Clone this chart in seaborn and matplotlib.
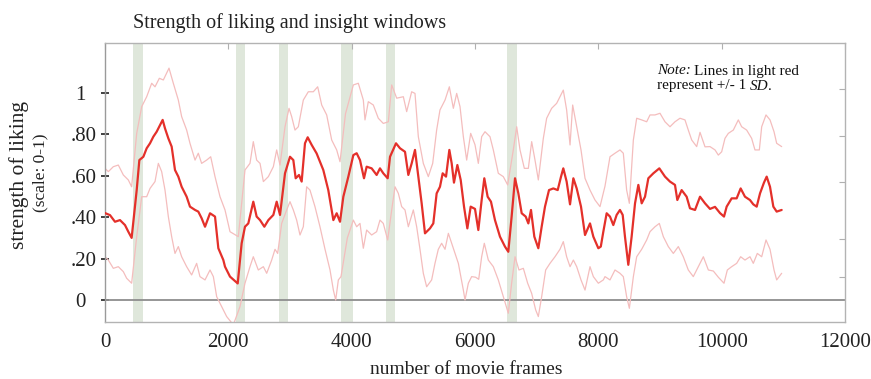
import matplotlib
matplotlib.use("Agg")
import matplotlib.pyplot as plt
import seaborn as sns
import pandas as pd

# ---------------- data ----------------
MEAN_FRAMES = [0, 81, 162, 243, 324, 378, 432, 514, 557, 622, 676, 730, 784, 838, 892, 935, 973, 1027, 1081, 1135,
               1189, 1243, 1324, 1378, 1460, 1513, 1567, 1622, 1703, 1784, 1838, 1919, 1946, 2027, 2152, 2216, 2270,
               2324, 2405, 2459, 2514, 2584, 2649, 2730, 2784, 2838, 2919, 3000, 3054, 3092, 3146, 3189, 3243, 3287,
               3352, 3432, 3540, 3621, 3703, 3757, 3811, 3865, 3946, 4027, 4081, 4135, 4200, 4243, 4324, 4405, 4459,
               4513, 4584, 4622, 4719, 4784, 4865, 4919, 4973, 5027, 5081, 5135, 5189, 5270, 5324, 5378, 5432, 5476,
               5530, 5584, 5622, 5659, 5714, 5768, 5822, 5876, 5930, 6000, 6054, 6108, 6151, 6205, 6259, 6324, 6405,
               6486, 6540, 6594, 6649, 6703, 6757, 6822, 6865, 6908, 6962, 7027, 7081, 7135, 7200, 7270, 7341, 7395,
               7432, 7486, 7541, 7595, 7649, 7719, 7784, 7865, 7919, 8000, 8040, 8081, 8135, 8189, 8243, 8297, 8351,
               8395, 8432, 8486, 8540, 8595, 8649, 8703, 8757, 8811, 8892, 8989, 9081, 9162, 9243, 9281, 9351, 9432,
               9486, 9568, 9649, 9730, 9811, 9892, 9973, 10038, 10081, 10162, 10243, 10308, 10378, 10459, 10513,
               10568, 10622, 10686, 10730, 10784, 10838, 10892, 10973]
MEAN_VALUES = [0.42, 0.41, 0.378, 0.386, 0.362, 0.33, 0.30, 0.531, 0.676, 0.692, 0.733, 0.757, 0.789, 0.813, 0.845,
               0.870, 0.829, 0.781, 0.741, 0.628, 0.596, 0.547, 0.499, 0.451, 0.435, 0.427, 0.395, 0.354, 0.419,
               0.403, 0.25, 0.193, 0.161, 0.113, 0.08, 0.274, 0.354, 0.37, 0.475, 0.403, 0.386, 0.354, 0.386, 0.411,
               0.475, 0.411, 0.612, 0.692, 0.676, 0.588, 0.604, 0.572, 0.757, 0.786, 0.749, 0.708, 0.628, 0.531,
               0.386, 0.419, 0.378, 0.499, 0.596, 0.70, 0.709, 0.676, 0.588, 0.644, 0.636, 0.604, 0.636, 0.612,
               0.588, 0.692, 0.757, 0.733, 0.716, 0.604, 0.660, 0.725, 0.596, 0.467, 0.322, 0.346, 0.370, 0.515,
               0.547, 0.612, 0.596, 0.725, 0.660, 0.567, 0.652, 0.580, 0.451, 0.346, 0.451, 0.44, 0.338, 0.483,
               0.588, 0.499, 0.475, 0.386, 0.306, 0.258, 0.233, 0.403, 0.588, 0.515, 0.419, 0.403, 0.370, 0.435,
               0.306, 0.250, 0.354, 0.451, 0.531, 0.539, 0.531, 0.596, 0.636, 0.572, 0.462, 0.588, 0.539, 0.451,
               0.314, 0.370, 0.306, 0.250, 0.258, 0.33, 0.419, 0.403, 0.362, 0.411, 0.435, 0.411, 0.306, 0.17,
               0.306, 0.467, 0.556, 0.467, 0.499, 0.588, 0.612, 0.636, 0.596, 0.572, 0.556, 0.483, 0.531, 0.499,
               0.443, 0.435, 0.499, 0.467, 0.440, 0.45, 0.42, 0.403, 0.451, 0.491, 0.491, 0.539, 0.499, 0.483,
               0.462, 0.451, 0.515, 0.567, 0.596, 0.547, 0.451, 0.427, 0.435]

UPPER_FRAMES = [0, 54, 135, 216, 297, 378, 432, 514, 595, 676, 757, 811, 881, 946, 1038, 1108, 1189, 1243, 1324,
                1378, 1460, 1513, 1567, 1649, 1714, 1784, 1865, 1946, 2027, 2162, 2270, 2351, 2405, 2459, 2514, 2568,
                2649, 2730, 2784, 2838, 2919, 2984, 3027, 3081, 3135, 3216, 3297, 3378, 3449, 3514, 3595, 3676, 3757,
                3811, 3900, 4027, 4108, 4189, 4216, 4270, 4351, 4432, 4513, 4595, 4649, 4730, 4838, 4892, 4973, 5027,
                5081, 5162, 5243, 5314, 5378, 5432, 5514, 5584, 5649, 5703, 5757, 5811, 5865, 5930, 6000, 6054, 6108,
                6162, 6243, 6297, 6378, 6459, 6530, 6621, 6676, 6730, 6800, 6865, 6919, 6973, 7027, 7108, 7162, 7243,
                7324, 7378, 7432, 7486, 7541, 7584, 7649, 7719, 7784, 7865, 7946, 8027, 8108, 8189, 8270, 8351, 8405,
                8459, 8503, 8568, 8622, 8703, 8784, 8838, 8919, 9000, 9081, 9162, 9243, 9324, 9405, 9459, 9514, 9595,
                9649, 9730, 9811, 9892, 9946, 10000, 10054, 10108, 10189, 10270, 10324, 10405, 10486, 10540, 10611,
                10649, 10719, 10784, 10849, 10892, 10973]
UPPER_VALUES = [0.636, 0.62, 0.644, 0.652, 0.604, 0.580, 0.547, 0.805, 0.934, 0.982, 1.047, 1.03, 1.071, 1.063, 1.12,
                1.047, 0.966, 0.886, 0.821, 0.757, 0.676, 0.709, 0.660, 0.676, 0.692, 0.596, 0.499, 0.435, 0.330,
                0.306, 0.628, 0.660, 0.765, 0.676, 0.660, 0.572, 0.596, 0.644, 0.725, 0.652, 0.837, 0.926, 0.886,
                0.821, 0.837, 0.966, 1.006, 1.006, 1.03, 0.942, 0.894, 0.773, 0.725, 0.668, 0.9, 1.039, 1.047, 0.966,
                0.870, 0.958, 0.942, 0.878, 0.853, 0.861, 1.039, 0.975, 0.982, 0.910, 1.006, 0.998, 0.789, 0.660,
                0.596, 0.660, 0.821, 0.918, 0.966, 1.03, 0.926, 0.998, 0.934, 0.789, 0.676, 0.805, 0.75, 0.660,
                0.789, 0.813, 0.789, 0.725, 0.612, 0.596, 0.556, 0.725, 0.837, 0.725, 0.636, 0.636, 0.765, 0.676,
                0.580, 0.781, 0.878, 0.926, 0.950, 0.982, 1.014, 0.918, 0.749, 0.942, 0.837, 0.725, 0.588, 0.531,
                0.483, 0.451, 0.55, 0.692, 0.709, 0.725, 0.709, 0.531, 0.467, 0.773, 0.878, 0.870, 0.861, 0.894,
                0.894, 0.902, 0.861, 0.837, 0.861, 0.878, 0.870, 0.821, 0.773, 0.741, 0.81, 0.74, 0.741, 0.725,
                0.700, 0.716, 0.781, 0.805, 0.821, 0.870, 0.837, 0.821, 0.781, 0.725, 0.725, 0.837, 0.894, 0.870,
                0.813, 0.757, 0.741]

LOWER_FRAMES = [0, 54, 135, 216, 297, 351, 432, 514, 595, 676, 730, 811, 865, 919, 973, 1027, 1081, 1135, 1189, 1243,
                1324, 1405, 1486, 1540, 1622, 1703, 1757, 1811, 1892, 1973, 2081, 2189, 2270, 2351, 2405, 2486, 2568,
                2622, 2703, 2757, 2800, 2865, 2946, 3000, 3054, 3108, 3162, 3216, 3270, 3324, 3405, 3486, 3568, 3649,
                3703, 3741, 3784, 3827, 3930, 4027, 4081, 4135, 4189, 4243, 4324, 4405, 4459, 4513, 4584, 4649, 4703,
                4757, 4811, 4865, 4919, 5000, 5054, 5108, 5162, 5216, 5297, 5351, 5405, 5459, 5514, 5568, 5622, 5676,
                5730, 5811, 5838, 5892, 5946, 6010, 6060, 6108, 6151, 6216, 6297, 6378, 6459, 6540, 6594, 6649, 6713,
                6784, 6854, 6919, 6984, 7027, 7081, 7146, 7216, 7297, 7378, 7432, 7486, 7541, 7595, 7649, 7719, 7784,
                7865, 7919, 8000, 8081, 8108, 8189, 8270, 8351, 8405, 8459, 8503, 8568, 8622, 8703, 8784, 8838, 8919,
                8989, 9054, 9135, 9216, 9297, 9378, 9459, 9540, 9621, 9703, 9784, 9865, 9946, 10038, 10092, 10162,
                10243, 10308, 10378, 10459, 10513, 10578, 10649, 10719, 10784, 10849, 10892, 10973]
LOWER_VALUES = [0.209, 0.193, 0.153, 0.161, 0.137, 0.105, 0.081, 0.306, 0.499, 0.499, 0.539, 0.572, 0.660, 0.620,
                0.531, 0.403, 0.306, 0.225, 0.258, 0.209, 0.161, 0.121, 0.177, 0.113, 0.097, 0.145, 0.113, 0.016,
                -0.032, -0.08, -0.12, -0.032, 0.081, 0.161, 0.209, 0.145, 0.161, 0.129, 0.193, 0.245, 0.225, 0.370,
                0.435, 0.475, 0.435, 0.386, 0.314, 0.354, 0.547, 0.531, 0.451, 0.354, 0.245, 0.145, 0.048, 0.0,
                0.097, 0.113, 0.3, 0.386, 0.354, 0.370, 0.250, 0.338, 0.314, 0.330, 0.386, 0.370, 0.290, 0.435,
                0.547, 0.515, 0.451, 0.435, 0.354, 0.435, 0.354, 0.245, 0.129, 0.064, 0.097, 0.177, 0.245, 0.274,
                0.245, 0.322, 0.274, 0.225, 0.177, 0.048, 0.0, 0.081, 0.113, 0.11, 0.10, 0.209, 0.274, 0.193,
                0.161, 0.097, 0.016, -0.064, 0.081, 0.209, 0.145, 0.153, 0.081, 0.032, -0.048, -0.08, 0.016, 0.145,
                0.177, 0.209, 0.245, 0.282, 0.209, 0.161, 0.193, 0.161, 0.097, 0.048, 0.161, 0.113, 0.081, 0.097,
                0.113, 0.097, 0.145, 0.129, 0.113, 0.016, -0.04, 0.113, 0.209, 0.245, 0.290, 0.330, 0.354, 0.370,
                0.306, 0.258, 0.225, 0.258, 0.209, 0.145, 0.113, 0.161, 0.209, 0.145, 0.14, 0.11, 0.081, 0.145,
                0.161, 0.177, 0.209, 0.193, 0.209, 0.177, 0.225, 0.209, 0.290, 0.245, 0.145, 0.097, 0.129]

# insight windows (frame ranges)
BAND_STARTS = [454, 2124, 2822, 3820, 4551, 6524]
BAND_ENDS = [616, 2270, 2968, 4025, 4702, 6676]

X_TICKS = [0, 2000, 4000, 6000, 8000, 10000, 12000]
X_TICK_LABELS = ["0", "2000", "4000", "6000", "8000", "10000", "12000"]
Y_TICKS = [0, 0.2, 0.4, 0.6, 0.8, 1.0]
Y_TICK_LABELS = ["0  ", ".20", ".40", ".60", ".80", "1  "]
RIGHT_TICKS = [1.019, 0.792, 0.57, 0.295, 0.111]

TITLE = "Strength of liking and insight windows"
X_LABEL = "number of movie frames"
Y_LABEL = "strength of liking"
Y_SUBLABEL = "(scale: 0-1)"
NOTE_LINE1 = [("Note:", "italic"), ("Lines in light red", "normal")]
NOTE_LINE2 = [("represent +/- 1", "normal"), ("SD", "italic"), (".", "normal")]

# ---------------- style ----------------
sns.set_style("white")
SERIF = ["Liberation Serif", "DejaVu Serif"]
plt.rcParams["font.family"] = SERIF

RED = "#e4302a"
PINK = "#f4bdbd"
BAND = "#dfe7db"

W, H = 871, 379
fig = plt.figure(figsize=(W / 100, H / 100), dpi=100)
ax = fig.add_axes([105 / W, 1 - 322 / H, 740 / W, 279 / H])

for s, e in zip(BAND_STARTS, BAND_ENDS):
    ax.axvspan(s, e, color=BAND, lw=0, zorder=0)

ax.axhline(0, color="#8e8e8e", lw=1.3, zorder=1)

df_up = pd.DataFrame({"frame": UPPER_FRAMES, "value": UPPER_VALUES})
df_lo = pd.DataFrame({"frame": LOWER_FRAMES, "value": LOWER_VALUES})
df_mean = pd.DataFrame({"frame": MEAN_FRAMES, "value": MEAN_VALUES})

sns.lineplot(data=df_up, x="frame", y="value", ax=ax, color=PINK, lw=0.9, estimator=None, sort=False, zorder=2)
sns.lineplot(data=df_lo, x="frame", y="value", ax=ax, color=PINK, lw=0.9, estimator=None, sort=False, zorder=2)
sns.lineplot(data=df_mean, x="frame", y="value", ax=ax, color=RED, lw=1.6, estimator=None, sort=False, zorder=3)

ax.set_xlim(0, 12000)
ax.set_ylim(-22 / 207, 257 / 207)
ax.set_xlabel("")
ax.set_ylabel("")

for sp in ax.spines.values():
    sp.set_color("#b3b3b3")
    sp.set_linewidth(1.0)
ax.spines["left"].set_color("#9a9a9a")

ax.set_xticks(X_TICKS)
ax.set_xticklabels(X_TICK_LABELS)
ax.tick_params(axis="x", which="major", bottom=False, top=True, direction="in", length=4,
               color="#b0b0b0", width=0.8, labelsize=15, pad=8, labelcolor="#222222")
ax.set_yticks(Y_TICKS)
ax.set_yticklabels(Y_TICK_LABELS)
ax.tick_params(axis="y", which="major", left=True, right=False, direction="inout", length=6,
               color="#333333", width=1.3, labelsize=15, pad=3, labelcolor="#222222")
ax.set_yticks(RIGHT_TICKS, minor=True)
ax.tick_params(axis="y", which="minor", left=False, right=True, direction="in", length=4,
               color="#b0b0b0", width=0.8, labelleft=False)

fig.text(133 / W, 1 - 28 / H, TITLE, ha="left", va="baseline", fontsize=14.5, color="#222222")
fig.text(19 / W, 1 - 175 / H, Y_LABEL, rotation=90, ha="center", va="center", fontsize=15.5, color="#222222")
fig.text(40 / W, 1 - 173 / H, Y_SUBLABEL, rotation=90, ha="center", va="center", fontsize=12.5, color="#222222")
fig.text(466 / W, 1 - 374 / H, X_LABEL, ha="center", va="baseline", fontsize=14, color="#222222")

# note with mixed italic runs
fig.canvas.draw()
renderer = fig.canvas.get_renderer()


def draw_runs(x_px, y_px, runs, size=11, gap_px=3.5):
    x = x_px
    for i, (txt, style) in enumerate(runs):
        t = fig.text(x / W, 1 - y_px / H, txt, ha="left", va="baseline", fontsize=size,
                     style=style, color="#111111")
        wpx = t.get_window_extent(renderer).width
        nxt = runs[i + 1][0] if i + 1 < len(runs) else ""
        x = x + wpx + (0 if nxt.startswith(".") else gap_px)


draw_runs(657, 74.5, NOTE_LINE1)
draw_runs(657, 89.5, NOTE_LINE2)

fig.savefig("out.png", dpi=100)
